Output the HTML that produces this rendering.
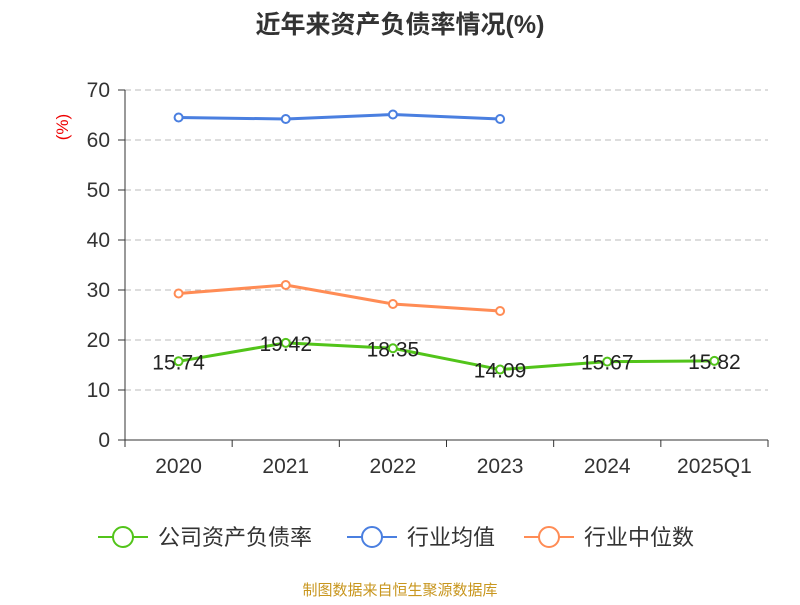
<!DOCTYPE html>
<html><head><meta charset="utf-8"><style>
body{margin:0;background:#fff;font-family:"Liberation Sans","Noto Sans CJK SC",sans-serif;}
</style></head><body>
<svg width="800" height="600" xmlns="http://www.w3.org/2000/svg" font-family="Liberation Sans, Noto Sans CJK SC, sans-serif">
<text x="400" y="33" text-anchor="middle" font-size="25" font-weight="bold" fill="#333">近年来资产负债率情况(%)</text>
<text x="68" y="127" text-anchor="middle" font-size="17" fill="#e00" transform="rotate(-90 68 127)">(%)</text>
<g id="grid"></g><g id="axes"></g><g id="series"></g>
<g>
<g><line x1="98" y1="537" x2="148" y2="537" stroke="#52c41a" stroke-width="2"/><circle cx="123" cy="537" r="10" fill="#fff" stroke="#52c41a" stroke-width="2"/><text x="158" y="545" font-size="22" fill="#333">公司资产负债率</text></g>
<g><line x1="347" y1="537" x2="397" y2="537" stroke="#4a7fe0" stroke-width="2"/><circle cx="372" cy="537" r="10" fill="#fff" stroke="#4a7fe0" stroke-width="2"/><text x="407" y="545" font-size="22" fill="#333">行业均值</text></g>
<g><line x1="524" y1="537" x2="574" y2="537" stroke="#ff8c55" stroke-width="2"/><circle cx="549" cy="537" r="10" fill="#fff" stroke="#ff8c55" stroke-width="2"/><text x="584" y="545" font-size="22" fill="#333">行业中位数</text></g>
</g>
<text x="400" y="595" text-anchor="middle" font-size="15" fill="#c8961e">制图数据来自恒生聚源数据库</text>
</svg>
<script>
const categories=["2020","2021","2022","2023","2024","2025Q1"];
const companyValues=[15.74,19.42,18.35,14.09,15.67,15.82];
const industryAvg=[64.5,64.2,65.1,64.2];
const industryMedian=[29.3,31.0,27.2,25.8];
const yTicks=[0,10,20,30,40,50,60,70];
const NS="http://www.w3.org/2000/svg";
const x0=125,x1=768,yTop=90,yBot=440,yMax=70;
const bw=(x1-x0)/categories.length;
const X=i=>x0+bw*(i+0.5);
const Y=v=>yBot-(v/yMax)*(yBot-yTop);
function mk(tag,attrs,parent,text){const e=document.createElementNS(NS,tag);for(const k in attrs)e.setAttribute(k,attrs[k]);if(text!==undefined)e.textContent=text;parent.appendChild(e);return e;}
const grid=document.getElementById('grid'),axes=document.getElementById('axes'),series=document.getElementById('series');
yTicks.forEach(t=>{
 if(t>0){const g=mk('line',{x1:x0,x2:x1,y1:Y(t),y2:Y(t),stroke:'#bbb','stroke-dasharray':'6,4'},grid);
 
 }
 mk('line',{x1:x0-7,x2:x0,y1:Y(t),y2:Y(t),stroke:'#333'},axes);
 const l=mk('text',{x:x0-15,y:Y(t)+7,'text-anchor':'end','font-size':21,fill:'#333'},axes,t);
 
 
});
mk('line',{x1:x0,x2:x0,y1:yTop,y2:yBot,stroke:'#333'},axes);
mk('line',{x1:x0,x2:x1,y1:yBot,y2:yBot,stroke:'#333'},axes);
for(let i=0;i<=categories.length;i++)mk('line',{x1:x0+bw*i,x2:x0+bw*i,y1:yBot,y2:yBot+7,stroke:'#333'},axes);
categories.forEach((c,i)=>{const l=mk('text',{x:X(i),y:473,'text-anchor':'middle','font-size':21,fill:'#333'},axes,c);
 
 });
function drawLine(vals,color,name,labels){
 const g=mk('g',{},series);
 
 
 mk('polyline',{points:vals.map((v,i)=>X(i)+','+Y(v)).join(' '),fill:'none',stroke:color,'stroke-width':3},g);
 vals.forEach((v,i)=>{const c=mk('circle',{cx:X(i),cy:Y(v),r:4,fill:'#fff',stroke:color,'stroke-width':2},g);
  
  
  if(labels){const t=mk('text',{x:X(i),y:Y(v)+8,'text-anchor':'middle','font-size':21,fill:'#222'},g,v.toFixed(2));
  
  }
 });
}
drawLine(industryAvg,'#4a7fe0','industry-avg-line',false);
drawLine(industryMedian,'#ff8c55','industry-median-line',false);
drawLine(companyValues,'#52c41a','company-line',true);
</script>
</body></html>
